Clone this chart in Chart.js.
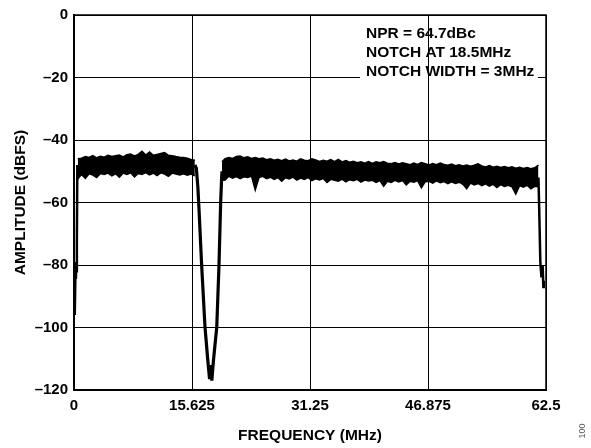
<!DOCTYPE html>
<html>
<head>
<meta charset="utf-8">
<script src="https://cdn.jsdelivr.net/npm/chart.js@4.4.0/dist/chart.umd.min.js"></script>
<style>
  html, body { margin: 0; padding: 0; background: #fff; }
  #wrap { width: 591px; height: 448px; position: relative; }
</style>
</head>
<body>
<div id="wrap"><canvas id="c" width="591" height="448"></canvas></div>
<script>
// ---- data ----
const xTicks = [0, 15.625, 31.25, 46.875, 62.5];
const xTickLabels = ['0', '15.625', '31.25', '46.875', '62.5'];
const yTicks = [0, -20, -40, -60, -80, -100, -120];
const annotationLines = ['NPR = 64.7dBc', 'NOTCH AT 18.5MHz', 'NOTCH WIDTH = 3MHz'];

const edgeLeftFreq = [0.1, 0.18, 0.26, 0.32, 0.38, 0.44];
const edgeLeftDb   = [-96, -84, -79, -82, -72, -48];

const band1Freq  = [0.5, 1.0, 1.5, 2.0, 2.5, 3.0, 3.5, 4.0, 4.5, 5.0, 5.5, 6.0, 6.5, 7.0, 7.5, 8.0,
                    8.5, 9.0, 9.5, 10.0, 10.5, 11.0, 11.5, 12.0, 12.5, 13.0, 13.5, 14.0, 14.5, 15.0, 15.5, 16.0];
const band1Upper = [-46.0, -45.8, -45.3, -45.6, -45.0, -45.7, -45.2, -45.5, -44.9, -45.3, -45.0, -44.8, -45.4, -44.7, -44.5, -45.1,
                    -44.6, -43.6, -44.8, -43.8, -44.9, -44.6, -44.3, -44.0, -44.9, -45.0, -45.3, -45.5, -45.6, -45.8, -46.2, -46.5];
const band1Lower = [-52.5, -51.0, -52.3, -50.8, -51.2, -52.0, -50.7, -51.0, -50.6, -51.5, -50.8, -51.9, -50.6, -51.0, -50.5, -51.8,
                    -50.7, -51.0, -50.4, -51.2, -50.6, -51.4, -50.5, -50.9, -51.6, -50.6, -50.9, -51.2, -50.8, -51.3, -50.9, -51.5];

const notchFreq = [16.0, 16.2, 16.4, 16.55, 16.9, 17.35, 17.7, 17.95, 18.1, 18.25, 18.45, 18.65, 18.9, 19.2, 19.42, 19.55, 19.6];
const notchDb   = [-48, -49, -55, -62, -80, -100, -110, -116.5, -112, -117, -111, -106, -100, -80, -60, -52, -50];

const band2Freq  = [19.6, 20.0, 20.5, 21.0, 21.5, 22.0, 22.5, 23.0, 23.5, 24.0, 24.5, 25.0, 25.5, 26.0, 26.5, 27.0, 27.5,
                    28.0, 28.5, 29.0, 29.5, 30.0, 30.5, 31.0, 31.5, 32.0, 32.5, 33.0, 33.5, 34.0, 34.5, 35.0, 35.5,
                    36.0, 36.5, 37.0, 37.5, 38.0, 38.5, 39.0, 39.5, 40.0, 40.5, 41.0, 41.5, 42.0, 42.5, 43.0, 43.5,
                    44.0, 44.5, 45.0, 45.5, 46.0, 46.5, 47.0, 47.5, 48.0, 48.5, 49.0, 49.5, 50.0, 50.5, 51.0, 51.5,
                    52.0, 52.5, 53.0, 53.5, 54.0, 54.5, 55.0, 55.5, 56.0, 56.5, 57.0, 57.5, 58.0, 58.5, 59.0, 59.5,
                    60.0, 60.5, 61.0, 61.5];
const band2Upper = [-47.0, -46.0, -45.6, -45.9, -45.3, -45.1, -45.7, -45.4, -45.9, -45.6, -46.0, -45.8, -46.3, -46.0, -46.5, -46.2, -46.6,
                    -46.1, -46.7, -46.4, -46.8, -46.0, -46.5, -46.6, -46.0, -46.4, -46.9, -46.5, -46.8, -46.3, -46.9, -46.2, -47.0,
                    -46.6, -47.1, -46.8, -47.3, -47.0, -47.4, -46.9, -47.5, -47.0, -47.3, -46.9, -47.4, -47.6, -47.2, -47.7, -47.3,
                    -47.6, -47.9, -47.4, -47.8, -47.2, -47.6, -48.0, -47.5, -47.9, -47.4, -47.8, -48.1, -47.7, -48.2, -47.9, -48.3,
                    -48.0, -48.4, -48.1, -47.6, -48.3, -48.6, -48.2, -48.7, -48.4, -48.8, -48.5, -48.9, -48.6, -49.0, -48.7, -49.1,
                    -48.8, -49.2, -48.9, -48.0];
const band2Lower = [-53.0, -52.8, -51.6, -52.2, -51.7, -52.4, -51.8, -52.0, -51.5, -56.0, -52.0, -51.6, -52.4, -51.9, -52.6, -52.0, -53.2,
                    -52.1, -52.5, -51.9, -52.8, -52.2, -52.6, -52.0, -53.0, -52.4, -52.8, -52.3, -53.6, -52.6, -52.9, -53.2, -52.5,
                    -53.4, -52.7, -53.0, -52.6, -53.5, -52.8, -53.1, -52.9, -53.6, -53.0, -54.8, -53.2, -53.6, -52.9, -53.4, -53.0,
                    -54.4, -53.2, -53.5, -53.0, -55.3, -53.4, -53.2, -53.8, -53.1, -53.7, -53.3, -54.0, -53.4, -53.9, -53.5, -54.2,
                    -55.6, -53.8, -54.4, -53.9, -54.6, -54.0, -54.8, -54.2, -55.2, -54.3, -54.9, -54.5, -55.0, -57.3, -54.6, -55.1,
                    -54.5, -55.6, -54.8, -55.0];

const edgeRightFreq = [61.5, 61.6, 61.75, 61.9, 62.05, 62.15, 62.2];
const edgeRightDb   = [-52, -62, -79, -84, -80, -87, -85];

// ---- build chart ----
const pts = (xs, ys) => xs.map((x, i) => ({ x: x, y: ys[i] }));
const FONT = '"Liberation Sans", Arial, Helvetica, sans-serif';

const lineDs = (data, extra) => Object.assign({
  data: data, borderColor: '#000', backgroundColor: '#000', borderWidth: 2.5,
  pointRadius: 0, tension: 0, fill: false
}, extra || {});

const decor = {
  id: 'decor',
  beforeDatasetsDraw(chart) {
    const ctx = chart.ctx, xs = chart.scales.x;
    // white box behind the annotation (interrupts the -20 gridline)
    ctx.save();
    ctx.fillStyle = '#fff';
    ctx.fillRect(360, 66, 178, 13);
    ctx.strokeStyle = '#000';
    ctx.lineWidth = 1;
    const gx = Math.round(xs.getPixelForValue(xTicks[3])) + 0.5;
    ctx.beginPath(); ctx.moveTo(gx, 66); ctx.lineTo(gx, 79); ctx.stroke();
    ctx.restore();
  },
  afterDraw(chart) {
    const ctx = chart.ctx, a = chart.chartArea;
    ctx.save();
    // frame
    ctx.strokeStyle = '#000';
    ctx.lineWidth = 1.5;
    ctx.strokeRect(a.left, a.top, a.right - a.left, a.bottom - a.top);
    ctx.lineWidth = 2;
    ctx.beginPath();
    ctx.moveTo(a.left, a.top); ctx.lineTo(a.left, a.bottom); ctx.lineTo(a.right, a.bottom);
    ctx.stroke();
    // annotation
    ctx.fillStyle = '#000';
    ctx.font = 'bold 15.5px ' + FONT;
    ctx.textBaseline = 'middle';
    ctx.textAlign = 'left';
    annotationLines.forEach((t, i) => ctx.fillText(t, 366, 33.5 + i * 19));
    // axis titles
    ctx.font = 'bold 15.5px ' + FONT;
    ctx.textAlign = 'center';
    ctx.fillText('FREQUENCY (MHz)', (a.left + a.right) / 2, 436);
    ctx.save();
    ctx.translate(21, (a.top + a.bottom) / 2);
    ctx.rotate(-Math.PI / 2);
    ctx.fillText('AMPLITUDE (dBFS)', 0, 0);
    ctx.restore();
    // figure number
    ctx.save();
    ctx.fillStyle = '#555';
    ctx.font = '9px ' + FONT;
    ctx.translate(583, 431);
    ctx.rotate(-Math.PI / 2);
    ctx.fillText('100', 0, 0);
    ctx.restore();
    ctx.restore();
  }
};

new Chart(document.getElementById('c'), {
  type: 'line',
  data: {
    datasets: [
      lineDs(pts(band1Freq, band1Upper), { borderWidth: 1.5 }),
      lineDs(pts(band1Freq, band1Lower), { borderWidth: 1.5, fill: '-1' }),
      lineDs(pts(band2Freq, band2Upper), { borderWidth: 1.5 }),
      lineDs(pts(band2Freq, band2Lower), { borderWidth: 1.5, fill: '-1' }),
      lineDs(pts(edgeLeftFreq, edgeLeftDb)),
      lineDs(pts(notchFreq, notchDb), { borderWidth: 3.2 }),
      lineDs(pts(edgeRightFreq, edgeRightDb))
    ]
  },
  options: {
    responsive: false,
    animation: false,
    events: [],
    layout: { padding: { top: 13, right: 45, left: 0, bottom: 0 } },
    plugins: { legend: { display: false }, tooltip: { enabled: false } },
    scales: {
      x: {
        type: 'linear', min: 0, max: 62.5,
        afterBuildTicks: s => { s.ticks = xTicks.map(v => ({ value: v })); },
        afterFit: s => { s.height = 58; },
        ticks: {
          color: '#000', padding: 7, maxRotation: 0, autoSkip: false,
          font: { family: FONT, size: 15, weight: 'bold' },
          callback: (v) => xTickLabels[xTicks.indexOf(v)]
        },
        grid: { color: '#000', lineWidth: 1, drawTicks: false },
        border: { color: '#000', width: 2 }
      },
      y: {
        type: 'linear', min: -120, max: 0,
        afterBuildTicks: s => { s.ticks = yTicks.map(v => ({ value: v })); },
        afterFit: s => { s.width = 74; },
        ticks: {
          color: '#000', padding: 6, autoSkip: false,
          font: { family: FONT, size: 15, weight: 'bold' },
          callback: (v) => (v < 0 ? '\u2013' + Math.abs(v) : String(v))
        },
        grid: { color: '#000', lineWidth: 1, drawTicks: false },
        border: { color: '#000', width: 2 }
      }
    }
  },
  plugins: [decor]
});
</script>
</body>
</html>
